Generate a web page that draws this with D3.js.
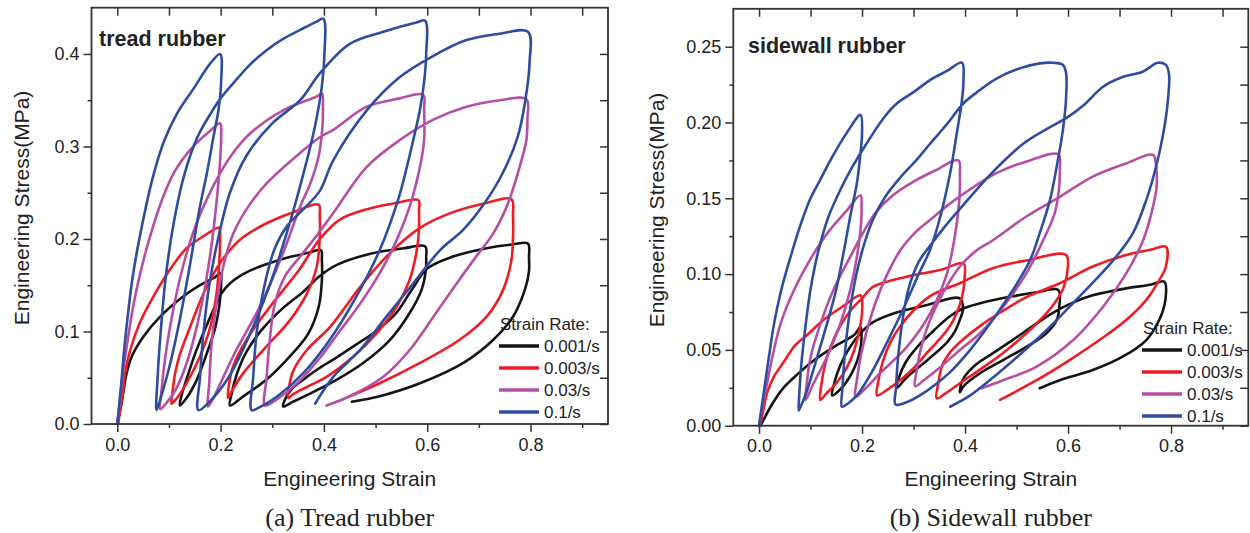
<!DOCTYPE html>
<html>
<head>
<meta charset="utf-8">
<script src="https://cdn.jsdelivr.net/npm/d3@7"></script>
<style>
  body { margin: 0; background: #fff; }
  svg text { font-family: "Liberation Sans", Arial, sans-serif; fill: #222; }
  .tick line { stroke: #333; stroke-width: 1.5; }
  .tick text { font-size: 18px; fill: #222; }
  .caption { font-family: "Liberation Serif", "Times New Roman", serif !important; font-size: 26px; }
</style>
</head>
<body>
<div id="chart"></div>
<script>
// legend entries and colours
const rates = ["0.001/s", "0.003/s", "0.03/s", "0.1/s"]
const colors = ["#151515", "#ee1c25", "#b64ea4", "#2f4d9f"]

// tick values
const strainTicks = [0, 0.2, 0.4, 0.6, 0.8]
const strainMinor = [0.1, 0.3, 0.5, 0.7, 0.9]
const treadStressTicks = [0, 0.1, 0.2, 0.3, 0.4]
const treadStressMinor = [0.05, 0.15, 0.25, 0.35]
const sideStressTicks = [0, 0.05, 0.1, 0.15, 0.2, 0.25]
const sideStressMinor = [0.025, 0.075, 0.125, 0.175, 0.225]

// tread rubber, [strain, stress(MPa)]
const tread001 = [[0,0],[0.008,0.022],[0.018,0.055],[0.028,0.073],[0.05,0.094],[0.083,0.116],[0.128,0.138],[0.16,0.15],[0.19,0.159],[0.2,0.163],
  [0.201,0.152],[0.199,0.135],[0.19,0.105],[0.173,0.076],[0.154,0.048],[0.134,0.028],[0.121,0.02],
  [0.124,0.03],[0.135,0.05],[0.15,0.075],[0.168,0.1],[0.185,0.122],[0.2,0.14],[0.22,0.153],[0.25,0.164],[0.29,0.173],[0.33,0.18],[0.37,0.185],[0.394,0.188],
  [0.396,0.177],[0.396,0.155],[0.39,0.127],[0.37,0.098],[0.334,0.073],[0.289,0.048],[0.244,0.03],[0.218,0.02],
  [0.221,0.032],[0.232,0.055],[0.25,0.078],[0.28,0.102],[0.32,0.125],[0.36,0.143],[0.392,0.16],[0.425,0.172],[0.49,0.184],[0.555,0.19],[0.596,0.192],
  [0.598,0.18],[0.597,0.165],[0.589,0.145],[0.566,0.12],[0.528,0.091],[0.476,0.066],[0.425,0.048],[0.37,0.032],[0.34,0.024],[0.321,0.019],
  [0.326,0.028],[0.338,0.038],[0.36,0.048],[0.39,0.06],[0.425,0.072],[0.46,0.085],[0.5,0.1],[0.54,0.12],[0.57,0.145],[0.6,0.168],[0.65,0.181],[0.715,0.19],[0.765,0.194],[0.795,0.195],
  [0.797,0.18],[0.797,0.165],[0.789,0.145],[0.766,0.116],[0.728,0.091],[0.67,0.066],[0.586,0.044],[0.508,0.03],[0.454,0.024]]

const tread003 = [[0.002,0],[0.004,0.01],[0.01,0.03],[0.015,0.055],[0.025,0.08],[0.044,0.11],[0.07,0.138],[0.102,0.167],[0.134,0.19],[0.167,0.203],[0.197,0.212],
  [0.199,0.2],[0.198,0.181],[0.193,0.145],[0.18,0.105],[0.16,0.073],[0.134,0.044],[0.114,0.027],[0.105,0.022],
  [0.107,0.035],[0.112,0.055],[0.121,0.075],[0.141,0.105],[0.167,0.141],[0.199,0.174],[0.237,0.199],[0.289,0.217],[0.341,0.229],[0.39,0.237],
  [0.392,0.225],[0.392,0.202],[0.386,0.17],[0.367,0.141],[0.334,0.112],[0.289,0.084],[0.244,0.055],[0.222,0.036],[0.214,0.028],
  [0.216,0.042],[0.224,0.062],[0.25,0.091],[0.3,0.13],[0.35,0.165],[0.392,0.2],[0.431,0.221],[0.489,0.233],[0.541,0.239],[0.583,0.242],
  [0.584,0.23],[0.584,0.21],[0.579,0.185],[0.566,0.156],[0.541,0.127],[0.502,0.098],[0.457,0.073],[0.405,0.051],[0.367,0.04],[0.34,0.032],[0.331,0.028],
  [0.333,0.042],[0.341,0.058],[0.367,0.08],[0.412,0.105],[0.47,0.148],[0.521,0.181],[0.586,0.212],[0.65,0.229],[0.715,0.239],[0.763,0.243],
  [0.766,0.225],[0.766,0.199],[0.763,0.177],[0.747,0.145],[0.715,0.116],[0.663,0.091],[0.586,0.066],[0.508,0.044],[0.45,0.03]]

const tread03 = [[0,0],[0.006,0.03],[0.012,0.06],[0.02,0.09],[0.03,0.125],[0.044,0.162],[0.062,0.2],[0.085,0.24],[0.11,0.272],[0.147,0.3],[0.18,0.317],[0.199,0.325],
  [0.201,0.31],[0.199,0.285],[0.193,0.245],[0.184,0.2],[0.172,0.155],[0.155,0.108],[0.135,0.067],[0.112,0.036],[0.094,0.022],[0.083,0.016],
  [0.085,0.033],[0.093,0.073],[0.107,0.12],[0.127,0.17],[0.15,0.212],[0.175,0.245],[0.2,0.272],[0.224,0.293],[0.257,0.314],[0.321,0.339],[0.386,0.354],[0.396,0.357],
  [0.398,0.34],[0.397,0.32],[0.39,0.29],[0.375,0.262],[0.354,0.235],[0.321,0.185],[0.276,0.127],[0.224,0.073],[0.192,0.035],[0.176,0.019],
  [0.178,0.045],[0.183,0.09],[0.192,0.13],[0.205,0.17],[0.224,0.205],[0.25,0.232],[0.289,0.26],[0.354,0.293],[0.392,0.31],[0.418,0.318],[0.483,0.343],[0.547,0.352],[0.592,0.356],
  [0.594,0.34],[0.594,0.307],[0.586,0.278],[0.566,0.235],[0.541,0.199],[0.51,0.165],[0.47,0.13],[0.43,0.1],[0.39,0.07],[0.35,0.045],[0.31,0.027],[0.286,0.02],
  [0.289,0.05],[0.295,0.09],[0.305,0.13],[0.325,0.16],[0.354,0.181],[0.385,0.203],[0.418,0.228],[0.483,0.278],[0.547,0.307],[0.612,0.329],[0.676,0.343],[0.741,0.35],[0.792,0.351],
  [0.794,0.33],[0.792,0.307],[0.779,0.278],[0.754,0.235],[0.728,0.206],[0.696,0.182],[0.657,0.152],[0.612,0.116],[0.566,0.08],[0.515,0.051],[0.45,0.03],[0.405,0.02]]

const tread1 = [[0,0],[0.007,0.04],[0.015,0.09],[0.03,0.16],[0.048,0.215],[0.068,0.265],[0.09,0.305],[0.115,0.335],[0.147,0.362],[0.179,0.389],[0.199,0.4],
  [0.201,0.37],[0.196,0.34],[0.186,0.31],[0.173,0.27],[0.16,0.235],[0.14,0.17],[0.12,0.11],[0.1,0.06],[0.085,0.03],[0.076,0.015],
  [0.078,0.05],[0.084,0.1],[0.094,0.16],[0.11,0.22],[0.13,0.27],[0.155,0.31],[0.18,0.335],[0.2,0.352],[0.224,0.368],[0.256,0.388],[0.289,0.404],[0.32,0.416],[0.354,0.426],[0.386,0.435],[0.399,0.438],
  [0.401,0.4],[0.396,0.365],[0.382,0.32],[0.36,0.27],[0.33,0.21],[0.295,0.15],[0.255,0.095],[0.215,0.05],[0.18,0.025],[0.157,0.015],
  [0.16,0.05],[0.167,0.1],[0.178,0.15],[0.195,0.2],[0.218,0.25],[0.25,0.29],[0.3,0.325],[0.354,0.35],[0.392,0.379],[0.45,0.411],[0.515,0.424],[0.579,0.434],[0.596,0.436],
  [0.598,0.4],[0.594,0.37],[0.586,0.34],[0.57,0.3],[0.545,0.245],[0.508,0.188],[0.46,0.135],[0.41,0.09],[0.36,0.055],[0.31,0.03],[0.275,0.018],[0.26,0.015],
  [0.263,0.05],[0.27,0.1],[0.285,0.15],[0.305,0.19],[0.33,0.215],[0.36,0.232],[0.392,0.252],[0.418,0.285],[0.483,0.339],[0.547,0.375],[0.612,0.398],[0.676,0.415],[0.741,0.422],[0.795,0.424],
  [0.798,0.39],[0.79,0.35],[0.775,0.31],[0.745,0.27],[0.71,0.238],[0.67,0.21],[0.625,0.188],[0.573,0.152],[0.521,0.116],[0.47,0.08],[0.418,0.051],[0.383,0.022]]

// sidewall rubber
const side001 = [[0.003,0],[0.012,0.006],[0.025,0.014],[0.045,0.024],[0.075,0.034],[0.11,0.044],[0.15,0.053],[0.185,0.06],[0.197,0.065],
  [0.199,0.058],[0.195,0.048],[0.185,0.038],[0.17,0.029],[0.155,0.023],[0.142,0.02],
  [0.146,0.028],[0.158,0.04],[0.175,0.051],[0.197,0.061],[0.22,0.068],[0.261,0.074],[0.326,0.0796],[0.39,0.084],
  [0.396,0.077],[0.39,0.07],[0.38,0.062],[0.365,0.055],[0.326,0.043],[0.287,0.032],[0.268,0.025],
  [0.272,0.032],[0.285,0.042],[0.31,0.053],[0.34,0.063],[0.37,0.072],[0.394,0.077],[0.429,0.0807],[0.487,0.085],[0.539,0.088],[0.581,0.0895],
  [0.583,0.0785],[0.578,0.0697],[0.558,0.061],[0.519,0.052],[0.474,0.0433],[0.429,0.0346],[0.397,0.026],[0.39,0.022],
  [0.395,0.03],[0.42,0.04],[0.455,0.048],[0.49,0.056],[0.52,0.063],[0.55,0.07],[0.584,0.077],[0.615,0.082],[0.648,0.086],[0.713,0.0906],[0.76,0.093],[0.787,0.095],
  [0.789,0.083],[0.777,0.0697],[0.752,0.0565],[0.706,0.0455],[0.648,0.0367],[0.584,0.03],[0.545,0.0247]]

const side003 = [[0.002,0],[0.008,0.01],[0.016,0.022],[0.03,0.033],[0.048,0.042],[0.07,0.053],[0.094,0.06],[0.126,0.07],[0.164,0.079],[0.197,0.086],
  [0.2,0.075],[0.195,0.063],[0.185,0.05],[0.17,0.038],[0.15,0.028],[0.13,0.021],[0.119,0.017],
  [0.121,0.027],[0.128,0.04],[0.14,0.053],[0.158,0.066],[0.18,0.077],[0.2,0.084],[0.222,0.0917],[0.287,0.0983],[0.352,0.1027],[0.397,0.107],
  [0.399,0.097],[0.396,0.088],[0.39,0.08],[0.378,0.07],[0.365,0.063],[0.345,0.055],[0.326,0.048],[0.3,0.038],[0.274,0.03],[0.25,0.024],[0.229,0.02],
  [0.232,0.03],[0.24,0.042],[0.255,0.055],[0.275,0.066],[0.3,0.076],[0.33,0.085],[0.36,0.09],[0.39,0.094],[0.455,0.104],[0.519,0.109],[0.596,0.1126],
  [0.598,0.1],[0.59,0.09],[0.572,0.08],[0.552,0.072],[0.519,0.061],[0.474,0.048],[0.429,0.037],[0.39,0.028],[0.365,0.022],[0.345,0.018],
  [0.348,0.028],[0.356,0.04],[0.37,0.048],[0.39,0.055],[0.43,0.066],[0.47,0.075],[0.52,0.085],[0.584,0.094],[0.648,0.105],[0.713,0.1126],[0.76,0.116],[0.79,0.118],
  [0.79,0.105],[0.777,0.096],[0.752,0.083],[0.713,0.0697],[0.661,0.0565],[0.603,0.0433],[0.539,0.03],[0.468,0.017]]

const side03 = [[0,0],[0.005,0.01],[0.013,0.0235],[0.026,0.0455],[0.042,0.0675],[0.068,0.0895],[0.1,0.11],[0.135,0.128],[0.168,0.141],[0.197,0.152],
  [0.199,0.145],[0.198,0.133],[0.19,0.1115],[0.177,0.0895],[0.158,0.0675],[0.132,0.0455],[0.106,0.028],[0.094,0.019],[0.09,0.017],
  [0.092,0.026],[0.1,0.045],[0.119,0.067],[0.145,0.09],[0.175,0.11],[0.2,0.126],[0.225,0.14],[0.26,0.152],[0.3,0.161],[0.34,0.168],[0.387,0.175],
  [0.39,0.165],[0.389,0.15],[0.384,0.1335],[0.365,0.1005],[0.332,0.074],[0.287,0.052],[0.235,0.0346],[0.205,0.024],[0.187,0.019],
  [0.19,0.03],[0.2,0.05],[0.22,0.075],[0.245,0.097],[0.275,0.116],[0.305,0.128],[0.332,0.1357],[0.365,0.145],[0.397,0.153],[0.461,0.1666],[0.526,0.175],[0.581,0.179],
  [0.584,0.168],[0.582,0.155],[0.574,0.14],[0.552,0.1225],[0.519,0.1005],[0.474,0.0785],[0.429,0.061],[0.39,0.05],[0.35,0.038],[0.32,0.03],[0.303,0.026],
  [0.306,0.036],[0.315,0.052],[0.33,0.068],[0.35,0.083],[0.37,0.095],[0.39,0.105],[0.42,0.115],[0.455,0.1225],[0.519,0.138],[0.584,0.151],[0.648,0.1643],[0.713,0.173],[0.765,0.1786],
  [0.771,0.171],[0.772,0.158],[0.765,0.1445],[0.746,0.1225],[0.713,0.1005],[0.668,0.0785],[0.61,0.0565],[0.539,0.039],[0.474,0.03],[0.432,0.0247]]

const side1 = [[0,0],[0.005,0.012],[0.01,0.024],[0.019,0.045],[0.029,0.067],[0.042,0.088],[0.06,0.11],[0.08,0.132],[0.1,0.15],[0.12,0.163],[0.14,0.176],[0.17,0.193],[0.197,0.205],
  [0.2,0.193],[0.197,0.18],[0.19,0.16],[0.177,0.138],[0.164,0.114],[0.15,0.09],[0.13,0.065],[0.11,0.042],[0.092,0.022],[0.08,0.012],[0.077,0.01],
  [0.078,0.02],[0.082,0.04],[0.09,0.065],[0.1,0.09],[0.115,0.115],[0.135,0.138],[0.16,0.157],[0.18,0.17],[0.203,0.183],[0.242,0.203],[0.268,0.2127],[0.3,0.22],[0.332,0.228],[0.365,0.234],[0.394,0.2394],
  [0.397,0.228],[0.394,0.2148],[0.384,0.193],[0.371,0.1665],[0.352,0.138],[0.332,0.116],[0.31,0.1],[0.28,0.077],[0.25,0.056],[0.22,0.036],[0.19,0.02],[0.17,0.014],[0.161,0.0125],
  [0.162,0.025],[0.166,0.045],[0.174,0.07],[0.186,0.095],[0.2,0.115],[0.22,0.135],[0.245,0.151],[0.275,0.164],[0.305,0.175],[0.332,0.186],[0.365,0.199],[0.397,0.2127],[0.429,0.2214],[0.461,0.229],[0.506,0.2357],[0.545,0.239],[0.571,0.2394],[0.59,0.238],[0.596,0.233],
  [0.596,0.215],[0.59,0.195],[0.578,0.171],[0.565,0.149],[0.545,0.127],[0.526,0.109],[0.49,0.088],[0.45,0.068],[0.41,0.05],[0.37,0.035],[0.33,0.024],[0.29,0.016],[0.265,0.014],
  [0.266,0.025],[0.27,0.045],[0.278,0.068],[0.29,0.09],[0.31,0.108],[0.335,0.12],[0.36,0.131],[0.39,0.143],[0.45,0.166],[0.513,0.186],[0.56,0.196],[0.597,0.203],[0.629,0.211],[0.668,0.2236],[0.706,0.23],[0.745,0.2335],[0.774,0.2394],[0.79,0.238],[0.796,0.232],
  [0.794,0.215],[0.785,0.193],[0.771,0.171],[0.752,0.149],[0.726,0.127],[0.69,0.11],[0.65,0.095],[0.603,0.0785],[0.555,0.062],[0.5,0.045],[0.455,0.032],[0.41,0.02],[0.371,0.0125]]

const w = 1250
const h = 533

const svg = d3.select("#chart")
  .append("svg")
  .attr("width", w)
  .attr("height", h)

const drawPanel = opts => {
  const x = d3.scaleLinear().domain([-0.05, 0.95]).range([opts.left, opts.right])
  const y = d3.scaleLinear().domain([0, opts.yMax]).range([opts.bottom, opts.top])
  const g = svg.append("g")

  // curves, black first so blue ends up on top
  const line = d3.line()
    .x(d => x(d[0]))
    .y(d => y(d[1]))
    .curve(d3.curveCatmullRom.alpha(0.5))

  g.selectAll("path.curve")
    .data(opts.series)
    .enter()
    .append("path")
    .attr("class", "curve")
    .attr("d", d => line(d))
    .attr("fill", "none")
    .attr("stroke", (d, i) => colors[i])
    .attr("stroke-width", 2.6)
    .attr("stroke-linejoin", "round")
    .attr("stroke-linecap", "round")

  // axes: bottom/left outward, top/right ticks point inside
  const fmtX = d3.format(".1f")
  g.append("g")
    .attr("transform", "translate(0," + opts.bottom + ")")
    .call(d3.axisBottom(x).tickValues(strainTicks).tickFormat(fmtX).tickSize(8).tickPadding(6))
  g.append("g")
    .attr("transform", "translate(0," + opts.bottom + ")")
    .call(d3.axisBottom(x).tickValues(strainMinor).tickFormat("").tickSize(4))
  g.append("g")
    .attr("transform", "translate(0," + opts.top + ")")
    .call(d3.axisBottom(x).tickValues(strainTicks.concat(strainMinor)).tickFormat("").tickSize(8))

  g.append("g")
    .attr("transform", "translate(" + opts.left + ",0)")
    .call(d3.axisLeft(y).tickValues(opts.yTicks).tickFormat(d3.format(opts.yFmt)).tickSize(8).tickPadding(4))
  g.append("g")
    .attr("transform", "translate(" + opts.left + ",0)")
    .call(d3.axisLeft(y).tickValues(opts.yMinor).tickFormat("").tickSize(4))
  g.append("g")
    .attr("transform", "translate(" + opts.right + ",0)")
    .call(d3.axisLeft(y).tickValues(opts.yTicks.concat(opts.yMinor)).tickFormat("").tickSize(8))

  g.selectAll(".domain").remove()

  g.append("rect")
    .attr("x", opts.left)
    .attr("y", opts.top)
    .attr("width", opts.right - opts.left)
    .attr("height", opts.bottom - opts.top)
    .attr("fill", "none")
    .attr("stroke", "#333")
    .attr("stroke-width", 1.8)

  // titles
  g.append("text")
    .attr("x", opts.titleX)
    .attr("y", opts.titleY)
    .attr("font-size", 21.5)
    .attr("font-weight", "bold")
    .text(opts.title)

  g.append("text")
    .attr("x", (opts.left + opts.right) / 2)
    .attr("y", 486)
    .attr("text-anchor", "middle")
    .attr("font-size", 21)
    .text("Engineering Strain")

  g.append("text")
    .attr("transform", "translate(" + opts.yLabelX + "," + opts.yLabelY + ") rotate(-90)")
    .attr("text-anchor", "middle")
    .attr("font-size", 21)
    .text("Engineering Stress(MPa)")

  g.append("text")
    .attr("class", "caption")
    .attr("x", (opts.left + opts.right) / 2)
    .attr("y", 526)
    .attr("text-anchor", "middle")
    .text(opts.caption)

  // legend
  const lg = g.append("g")
  lg.append("text")
    .attr("x", opts.legX + 1)
    .attr("y", opts.legY)
    .attr("font-size", 17)
    .text("Strain Rate:")
  const rows = lg.selectAll("g.row")
    .data(rates)
    .enter()
    .append("g")
    .attr("class", "row")
    .attr("transform", (d, i) => "translate(" + opts.legX + "," + (opts.legY + 16 + i * 22) + ")")
  rows.append("line")
    .attr("x1", 0)
    .attr("x2", 40)
    .attr("stroke", (d, i) => colors[i])
    .attr("stroke-width", 3.4)
  rows.append("text")
    .attr("x", 45)
    .attr("y", 6)
    .attr("font-size", 17)
    .text(d => d)
}

drawPanel({
  left: 91.5, right: 608, top: 7.7, bottom: 424, yMax: 0.45,
  yTicks: treadStressTicks, yMinor: treadStressMinor, yFmt: ".1f",
  series: [tread001, tread003, tread03, tread1],
  title: "tread rubber", titleX: 99, titleY: 46,
  yLabelX: 29, yLabelY: 208, caption: "(a) Tread rubber",
  legX: 499, legY: 330
})

drawPanel({
  left: 733.3, right: 1248.3, top: 8.8, bottom: 425.7, yMax: 0.275,
  yTicks: sideStressTicks, yMinor: sideStressMinor, yFmt: ".2f",
  series: [side001, side003, side03, side1],
  title: "sidewall rubber", titleX: 748, titleY: 53,
  yLabelX: 664, yLabelY: 210, caption: "(b) Sidewall rubber",
  legX: 1142, legY: 334
})
</script>
</body>
</html>
